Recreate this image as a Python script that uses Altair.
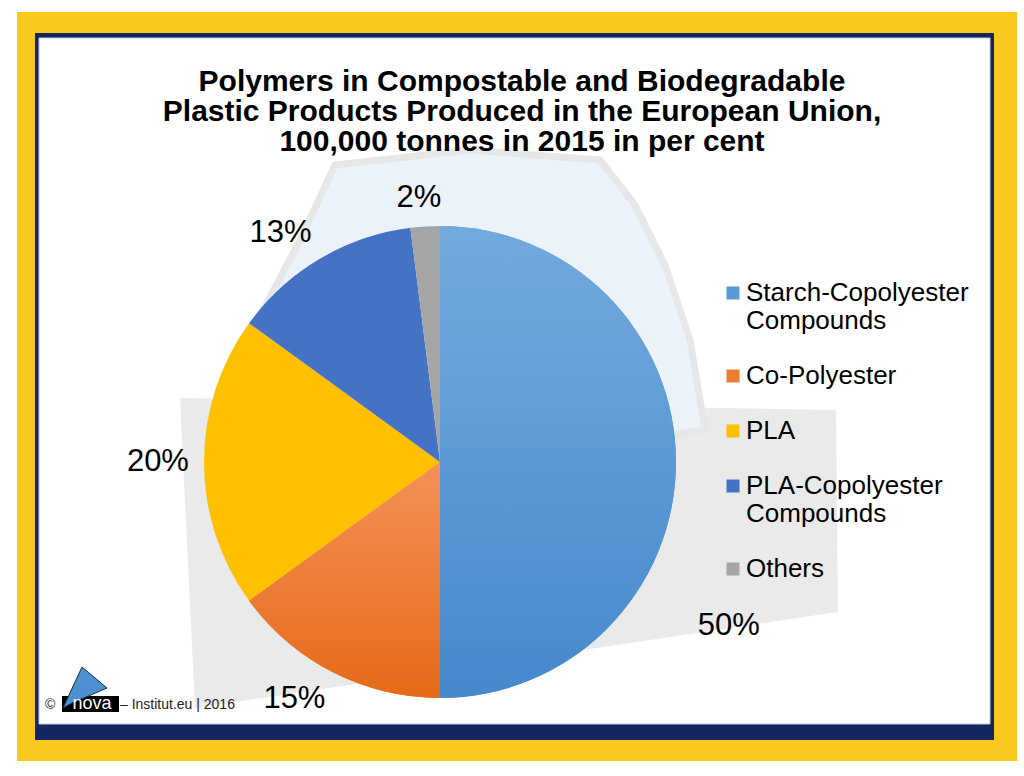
import altair as alt
import pandas as pd

# ---- data ----
categories = ["Starch-Copolyester Compounds", "Co-Polyester", "PLA",
              "PLA-Copolyester Compounds", "Others"]
shares = [50, 15, 20, 13, 2]
colors = ["#5B9BD5", "#ED7D31", "#FFC000", "#4472C4", "#A5A5A5"]
title_lines = ["Polymers in Compostable and Biodegradable",
               "Plastic Products Produced in the European Union,",
               "100,000 tonnes in 2015 in per cent"]
footer_text = "\u2013 Institut.eu | 2016"

df = pd.DataFrame({"category": categories, "share": shares,
                   "order": list(range(len(categories)))})

FONT = "Liberation Sans"
CX, CY, R = 440, 462, 236
one = alt.Data(values=[{"k": 1}])

def frame(color, x, x2, y, y2, **kw):
    return alt.Chart(one).mark_rect(color=color, **kw).encode(
        x=alt.value(x), x2=alt.value(x2), y=alt.value(y), y2=alt.value(y2))

yellow = frame("#F9C91F", 17, 1017, 12, 761)
navy = frame("#13265E", 35, 994, 33, 740)
white = frame("white", 39, 990, 38, 724, stroke="#C3CCDD", strokeWidth=1)

# ---- faint watermark of the logo (decoration) ----
def poly_layer(coords, fill, stroke=None, sw=0):
    feat = {"type": "FeatureCollection", "features": [
        {"type": "Feature", "properties": {},
         "geometry": {"type": "Polygon", "coordinates": [coords]}}]}
    kw = dict(fill=fill, strokeWidth=sw)
    if stroke:
        kw["stroke"] = stroke
        kw["strokeJoin"] = "round"
    return alt.Chart(alt.Data(values=feat, format=alt.DataFormat(property="features"))).mark_geoshape(
        **kw).project(type="identity", scale=1, translate=[0, 0])

band = poly_layer([[180, 398], [836, 410], [838, 612], [195, 708], [180, 398]], "#EAEAEA")
sail = poly_layer([[250, 335], [300, 240], [335, 165], [470, 150], [600, 160], [635, 205],
                   [665, 265], [690, 340], [705, 430], [600, 445], [250, 335]],
                  "#ECF2F9", "#E7E7E7", 7)

# ---- pie ----
grad_starch = {"gradient": "linear", "x1": 0, "y1": 0, "x2": 0, "y2": 1,
               "stops": [{"offset": 0, "color": "#73AADE"}, {"offset": 1, "color": "#4589CB"}]}
grad_orange = {"gradient": "linear", "x1": 0, "y1": 0, "x2": 0, "y2": 1,
               "stops": [{"offset": 0, "color": "#F4915A"}, {"offset": 1, "color": "#E66A18"}]}

base = alt.Chart(df)
pie = base.mark_arc(radius=R).encode(
    theta=alt.Theta("share:Q", stack=True),
    color=alt.Color("category:N", scale=alt.Scale(domain=categories, range=colors),
                    legend=alt.Legend(title=None, orient="none", legendX=720, legendY=280,
                                      symbolType="square", symbolSize=169, symbolStrokeWidth=0,
                                      labelFont=FONT, labelFontSize=26, labelColor="black",
                                      labelExpr="split(datum.label, ' ')", labelLimit=400,
                                      rowPadding=29, labelOffset=0)),
    order=alt.Order("order:Q"),
    x=alt.value(CX), y=alt.value(CY))

def grad_layer(cat, grad):
    return base.mark_arc(radius=R).encode(
        theta=alt.Theta("share:Q", stack=True),
        detail="category:N",
        order=alt.Order("order:Q"),
        color=alt.value(grad),
        opacity=alt.condition(f"datum.category == '{cat}'", alt.value(1), alt.value(0)),
        x=alt.value(CX), y=alt.value(CY))

g1 = grad_layer(categories[0], grad_starch)
g2 = grad_layer(categories[1], grad_orange)

# label placement: text box placed just outside the pie along the slice's mid angle
# (the largest slice's label is nudged away from the legend, as in the reference)
def sgn(e):
    return f"(({e}) > 0.25 ? 1 : (({e}) < -0.25 ? -1 : ({e}) / 0.25))"

labels = base.transform_window(
    cum="sum(share)", sort=[alt.SortField("order")], frame=[None, 0]
).transform_joinaggregate(maxshare="max(share)").transform_calculate(
    label="datum.share + '%'",
    big="datum.share == datum.maxshare ? 1 : 0",
).transform_calculate(
    ang="2 * PI * (datum.cum - datum.share / 2 + datum.big * 8.4) / 100",
    dist="datum.big ? 297 : 250",
    hw="length(datum.label) * 10.7",
).transform_calculate(
    sx="sin(datum.ang)", sy="-cos(datum.ang)",
).transform_calculate(
    qx="datum.dist * datum.sx + datum.hw * " + sgn("datum.sx"),
    qy="datum.dist * datum.sy + 14 * " + sgn("datum.sy"),
).transform_calculate(
    lab_theta="((atan2(datum.qx, -datum.qy) / (2 * PI) * 100) + 100) % 100",
    lab_r="sqrt(datum.qx * datum.qx + datum.qy * datum.qy)",
).mark_text(font=FONT, fontSize=31, color="black", align="center", baseline="middle").encode(
    theta=alt.Theta("lab_theta:Q", scale=alt.Scale(domain=[0, 100]), stack=None),
    radius=alt.Radius("lab_r:Q", scale=None),
    text="label:N",
    x=alt.value(CX), y=alt.value(CY))

title = alt.Chart(one).mark_text(text=title_lines, font=FONT, fontSize=30, fontWeight="bold",
                                 lineHeight=30, align="center", baseline="alphabetic",
                                 color="black").encode(x=alt.value(522), y=alt.value(91))

# ---- footer logo ----
copy = alt.Chart(one).mark_text(text="\u00a9", font=FONT, fontSize=14, align="left",
                                baseline="alphabetic", color="#222").encode(x=alt.value(45), y=alt.value(709))
nova_box = frame("black", 62, 119, 696, 712)
logo_sail = poly_layer([[63, 708], [82, 667], [107, 688], [72, 703], [63, 708]], "#4C90D2", "#1a2a40", 1)
nova = alt.Chart(one).mark_text(text="nova", font=FONT, fontSize=18, align="center",
                                baseline="alphabetic", color="white").encode(x=alt.value(92), y=alt.value(709))
inst = alt.Chart(one).mark_text(text=footer_text, font=FONT, fontSize=14, align="left",
                                baseline="alphabetic", color="#222").encode(x=alt.value(120), y=alt.value(709))

chart = alt.layer(
    yellow, navy, white, band, sail, pie, g1, g2, labels, title,
    copy, nova_box, logo_sail, nova, inst
).resolve_scale(theta="independent").properties(
    width=1024, height=776, autosize=alt.AutoSizeParams(type="none"), padding=0,
    background="white"
).configure_view(strokeWidth=0)

chart.save("out.html", embed_options={"renderer": "svg", "actions": False})
